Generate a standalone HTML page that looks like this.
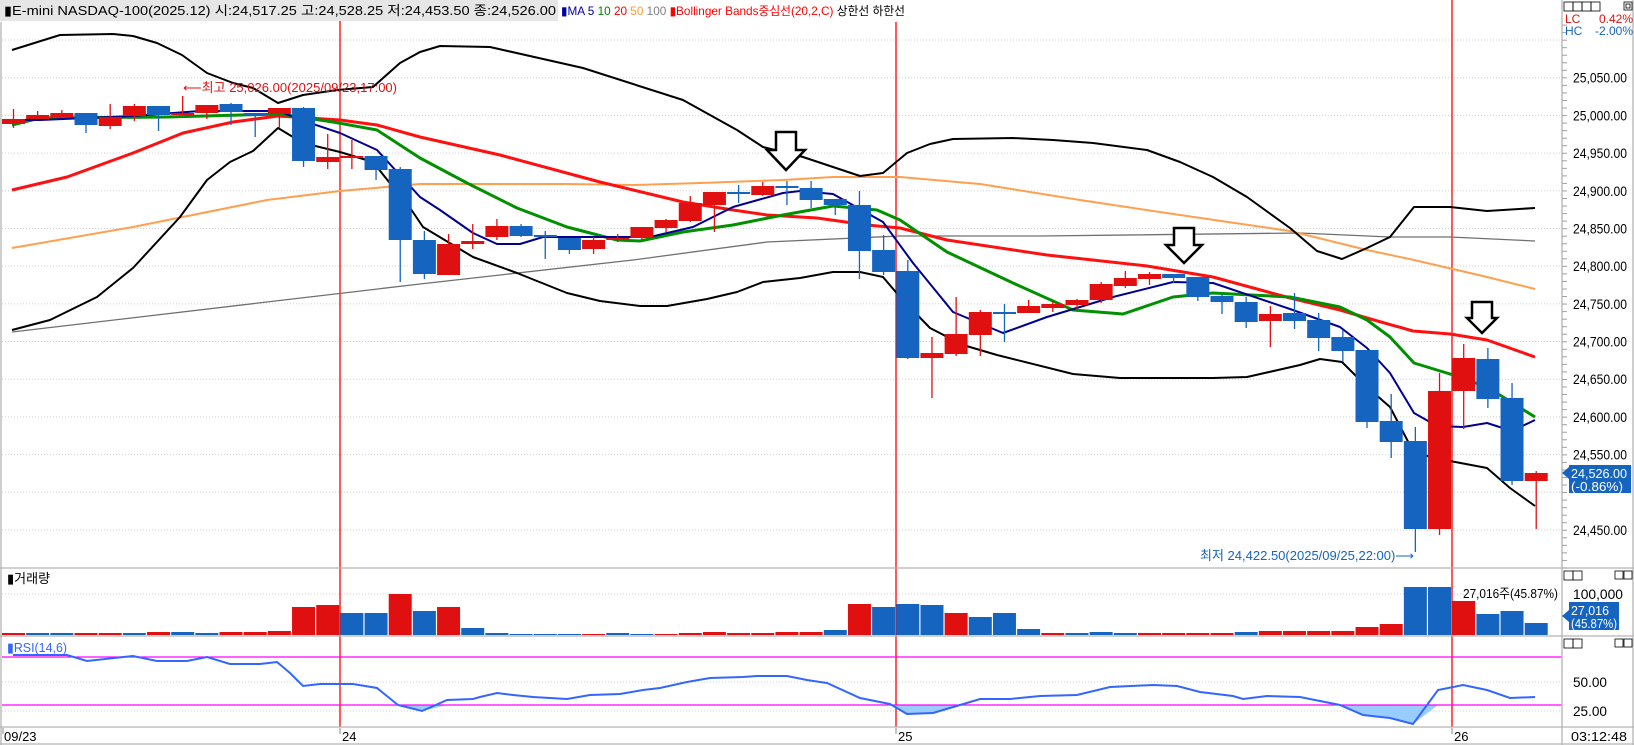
<!DOCTYPE html>
<html><head><meta charset="utf-8"><style>
html,body{margin:0;padding:0;background:#fff;}
svg{display:block;font-family:"Liberation Sans","Noto Sans CJK KR",sans-serif;}
</style></head><body>
<svg id="s" width="1634" height="745" viewBox="0 0 1634 745" xmlns="http://www.w3.org/2000/svg">
<defs><clipPath id="cp"><rect x="0" y="22" width="1562" height="546"/></clipPath></defs>
<rect x="0" y="0" width="1634" height="745" fill="#fff"/>
<g id="grid" stroke="#d0d0d0" stroke-dasharray="1,2" stroke-width="1"></g>
<g id="day" stroke="#ff0000" stroke-width="1.3">
<line x1="340" y1="0" x2="340" y2="727"/><line x1="896" y1="22" x2="896" y2="727"/><line x1="1452" y1="0" x2="1452" y2="727"/></g>
<g id="lines" clip-path="url(#cp)" fill="none" stroke-linejoin="round"></g>
<g id="cand"></g>
<g id="vol"></g>
<g id="rsi"></g>
<g fill="#fff" stroke="#000" stroke-width="2.5">
<path d="M776,132 h20 v18 h9 l-19,20 l-19,-20 h9 z"/>
<path d="M1174,228 h20 v17 h8 l-18,18 l-18,-18 h8 z"/>
<path d="M1472,302 h20 v16 h5 l-15,15 l-15,-15 h5 z"/>
</g>
<g stroke="#b4b4b4" stroke-width="1.3" fill="none">
<line x1="0" y1="568" x2="1634" y2="568"/><line x1="0" y1="636" x2="1634" y2="636"/>
<line x1="0" y1="727" x2="1634" y2="727"/><line x1="0" y1="744" x2="1634" y2="744"/>
<line x1="1562" y1="0" x2="1562" y2="745"/><line x1="1" y1="22" x2="1" y2="745"/>
<line x1="1633" y1="0" x2="1633" y2="745"/>
</g>
<g id="ticks" stroke="#a0a0a0" stroke-width="1"></g>
<rect x="0" y="0" width="558" height="21" fill="#e6e6e6"/>
<text x="4" y="15" font-size="13" fill="#000" textLength="552" lengthAdjust="spacingAndGlyphs">▮E-mini NASDAQ-100(2025.12) 시:24,517.25 고:24,528.25 저:24,453.50 종:24,526.00</text>
<text x="561" y="15" font-size="12" textLength="344" lengthAdjust="spacingAndGlyphs"><tspan fill="#0000a0">▮MA 5 </tspan><tspan fill="#008000">10 </tspan><tspan fill="#ff0000">20 </tspan><tspan fill="#ff9933">50 </tspan><tspan fill="#808080">100 </tspan><tspan fill="#ff0000">▮Bollinger Bands중심선(20,2,C) </tspan><tspan fill="#000">상한선 하한선</tspan></text>
<text x="183" y="92" font-size="13" fill="#e01010" textLength="214" lengthAdjust="spacingAndGlyphs">⟵최고 25,026.00(2025/09/23,17:00)</text>
<text x="1200" y="560" font-size="13" fill="#1464c0" textLength="214" lengthAdjust="spacingAndGlyphs">최저 24,422.50(2025/09/25,22:00)⟶</text>
<g id="plab" font-size="14" fill="#000"></g>
<g font-size="9" font-weight="bold" fill="#000" stroke="#000" stroke-width="0.8">
<rect x="1564" y="2" width="9" height="9" fill="none"/><rect x="1573" y="2" width="9" height="9" fill="none"/><rect x="1582" y="2" width="9" height="9" fill="none"/><rect x="1591" y="2" width="9" height="9" fill="none"/><rect x="1624" y="2" width="8" height="8" fill="none"/><rect x="1626" y="4" width="4" height="4" fill="none"/>
<rect x="1564" y="571" width="9" height="9" fill="none"/><rect x="1573" y="571" width="9" height="9" fill="none"/><rect x="1615" y="571" width="8" height="8" fill="none"/><rect x="1624" y="571" width="8" height="8" fill="none"/>
<rect x="1564" y="639" width="9" height="9" fill="none"/><rect x="1573" y="639" width="9" height="9" fill="none"/><rect x="1615" y="639" width="8" height="8" fill="none"/><rect x="1624" y="639" width="8" height="8" fill="none"/>
</g>
<text x="1565" y="23" font-size="12" fill="#e01010">LC</text><text x="1633" y="23" font-size="12" fill="#e01010" text-anchor="end">0.42%</text>
<text x="1565" y="35" font-size="12" fill="#1464c0">HC</text><text x="1633" y="35" font-size="12" fill="#1464c0" text-anchor="end">-2.00%</text>
<path d="M1562,473 l7,-6 v12 z" fill="#1464c0"/>
<rect x="1569" y="465" width="62" height="28" fill="#1464c0"/>
<text x="1571" y="478" font-size="13" fill="#fff" textLength="56" lengthAdjust="spacingAndGlyphs">24,526.00</text>
<text x="1571" y="491" font-size="13" fill="#fff" textLength="52" lengthAdjust="spacingAndGlyphs">(-0.86%)</text>
<text x="1573" y="599" font-size="14" textLength="50" lengthAdjust="spacingAndGlyphs">100,000</text>
<text x="1463" y="598" font-size="13" textLength="95" lengthAdjust="spacingAndGlyphs">27,016주(45.87%)</text>
<path d="M1562,616 l7,-6 v12 z" fill="#1464c0"/>
<rect x="1569" y="602" width="50" height="28" fill="#1464c0"/>
<text x="1571" y="615" font-size="13" fill="#fff" textLength="38" lengthAdjust="spacingAndGlyphs">27,016</text>
<text x="1571" y="628" font-size="13" fill="#fff" textLength="46" lengthAdjust="spacingAndGlyphs">(45.87%)</text>
<text x="7" y="583" font-size="13" fill="#000">▮거래량</text>
<text x="7" y="652" font-size="13" fill="#3366ff" textLength="60" lengthAdjust="spacingAndGlyphs">▮RSI(14,6)</text>
<text x="1573" y="687" font-size="14" textLength="34" lengthAdjust="spacingAndGlyphs">50.00</text>
<text x="1573" y="716" font-size="14" textLength="34" lengthAdjust="spacingAndGlyphs">25.00</text>
<g font-size="13" fill="#000">
<text x="4" y="741">09/23</text><text x="342" y="741">24</text><text x="898" y="741">25</text><text x="1454" y="741">26</text>
<text x="1571" y="741" textLength="56" lengthAdjust="spacingAndGlyphs">03:12:48</text></g>
<g stroke="#888"><line x1="3" y1="728" x2="3" y2="734"/><line x1="340" y1="728" x2="340" y2="734"/><line x1="896" y1="728" x2="896" y2="734"/><line x1="1452" y1="728" x2="1452" y2="734"/></g>
</svg>
<script>
var NS="http://www.w3.org/2000/svg";
function el(p,t,a){var e=document.createElementNS(NS,t);for(var k in a)e.setAttribute(k,a[k]);document.getElementById(p).appendChild(e);return e;}
var R="#e01010",B="#1464c0";
function yp(p){return 40+(25100-p)*0.7538;}
for(var p=25100;p>=24450;p-=50){var y=yp(p);el("grid","line",{x1:2,y1:y,x2:1562,y2:y});
 if(p!=25100&&p!=24500){var t=el("plab","text",{x:1573,y:y+5,textLength:54,lengthAdjust:"spacingAndGlyphs"});t.textContent=(p/1000|0)+","+String(p%1000).padStart(3,"0")+".00";}}
for(var y=40-7.5*4;y<568;y+=7.54){if(y>22)el("ticks","line",{x1:1562,y1:y,x2:1567,y2:y});}
[594,682,711].forEach(function(y){el("grid","line",{x1:2,y1:y,x2:1562,y2:y});});
var C=[["r",119,124,109,128],["r",115,119,111,119],["r",113,117,110,117],["b",113,125,113,133],["r",117,126,104,129],["r",106,116,104,121],["b",106,115,106,131],["r",113,114,96,114],["r",105,113,105,119],["b",104,112,103,125],["b",113,115,113,137],["r",108,114,108,128],["b",108,161,107,167],["r",157,162,134,169],["r",156,157,140,169],["b",156,170,156,180],["b",169,240,167,282],["b",240,274,231,279],["r",244,275,234,275],["r",241,244,224,249],["r",226,237,219,240],["b",226,236,224,237],["b",235,237,231,259],["b",238,250,238,254],["r",240,249,237,254],["r",238,240,234,242],["r",227,238,227,240],["r",220,228,219,232],["r",203,221,196,222],["r",192,205,192,232],["b",192,194,185,203],["r",186,195,182,196],["b",186,188,181,205],["b",188,200,181,208],["b",199,205,199,215],["b",205,251,191,279],["b",250,272,235,275],["b",271,358,260,359],["r",353,358,337,398],["r",334,354,297,356],["r",312,335,310,356],["b",312,313,304,342],["r",306,313,300,313],["r",304,308,301,312],["r",300,305,299,309],["r",284,300,282,303],["r",278,286,271,288],["r",274,279,272,285],["b",274,278,274,283],["b",277,297,277,301],["b",296,302,294,314],["b",302,322,297,328],["r",314,321,306,347],["b",313,321,293,329],["b",320,338,313,351],["b",337,351,330,362],["b",350,422,350,428],["b",421,442,394,458],["b",441,529,427,552],["r",391,529,373,535],["r",358,391,344,429],["b",359,399,348,408],["b",398,481,383,485],["r",473,481,471,529]];
C.forEach(function(c,i){var x=2+i*24.17,col=c[0]=="r"?R:B,cx=x+11.5;
 el("cand","line",{x1:cx,y1:c[3],x2:cx,y2:c[4],stroke:col,"stroke-width":1.3});
 var h=Math.max(2,c[2]-c[1]);el("cand","rect",{x:x,y:c[1],width:23,height:h,fill:col});});
var V=[2,2,2,2,2,2,3,3,2,3,3,4,28,30,22,22,41,24,28,7,2,1,1,1,1,2,1,1,2,3,2,2,3,3,5,31,28,31,30,22,18,22,6,2,2,3,2,2,2,2,2,3,4,4,4,4,8,11,48,48,34,21,24,12];
var VC="rbbrrbrbbrrrrrbbrbrbbbbbrbbrrrrrrrbrbbbrbbbrbbbrrrrbrrrrrrbbrb";
V.forEach(function(h,i){el("vol","rect",{x:2+i*24.17,y:635-h,width:23,height:h,fill:VC[i]=="r"?R:B});});
function pl(pts,col,w){el("lines","polyline",{points:pts.map(function(p){return p.join(",")}).join(" "),stroke:col,"stroke-width":w});}
pl([[12,332],[420,284],[633,260],[767,242],[900,236],[1040,236],[1300,233],[1390,237],[1450,237],[1535,241]],"#707070",1.3);
pl([[12,248],[133,227],[267,200],[340,191],[420,184],[567,184],[633,185],[700,183],[783,180],[833,177],[900,177],[980,184],[1080,200],[1180,215],[1290,231],[1367,250],[1414,260],[1487,277],[1535,289]],"#ffa050",2);
pl([[12,50],[60,35],[113,34],[133,36],[157,43],[182,55],[207,73],[233,83],[253,88],[278,103],[303,95],[337,90],[373,87],[400,63],[420,52],[440,46],[490,47],[583,68],[683,100],[737,130],[763,147],[803,157],[833,167],[860,176],[883,173],[907,153],[930,144],[953,139],[1013,138],[1053,140],[1093,143],[1147,150],[1180,162],[1213,177],[1247,197],[1290,228],[1317,251],[1342,259],[1367,248],[1390,237],[1414,207],[1450,207],[1487,211],[1535,208]],"#000",2);
pl([[12,330],[50,320],[97,297],[133,268],[180,217],[207,180],[230,162],[253,151],[278,128],[303,143],[340,152],[373,162],[393,187],[400,193],[423,227],[473,257],[517,273],[567,293],[600,301],[640,306],[667,306],[707,299],[737,292],[763,282],[800,278],[833,272],[860,272],[883,277],[900,297],[930,328],[963,345],[997,355],[1073,374],[1120,378],[1213,378],[1247,377],[1300,365],[1320,359],[1342,362],[1367,387],[1390,407],[1414,453],[1450,461],[1487,468],[1510,488],[1535,506]],"#000",2);
pl([[12,190],[67,177],[133,153],[183,133],[233,122],[278,116],[340,120],[377,125],[420,137],[500,155],[600,182],[683,202],[733,210],[767,215],[817,218],[867,225],[900,228],[947,240],[1047,255],[1147,266],[1213,277],[1290,298],[1340,310],[1367,318],[1413,331],[1450,334],[1487,340],[1535,357]],"#ff1010",3);
pl([[12,125],[40,118],[167,117],[280,114],[333,122],[377,130],[420,158],[467,183],[517,208],[567,227],[617,240],[640,241],[683,232],[733,225],[783,215],[833,206],[877,210],[900,220],[947,252],[1013,283],[1073,310],[1123,314],[1173,297],[1213,293],[1290,297],[1340,307],[1367,320],[1390,337],[1414,363],[1450,374],[1487,387],[1535,417]],"#009000",3);
pl([[12,120],[40,120],[133,116],[200,111],[278,111],[307,122],[340,133],[377,150],[420,197],[440,210],[473,233],[497,244],[520,244],[543,237],[650,237],[693,227],[733,207],[783,193],[800,191],[833,194],[883,222],[913,263],[953,312],[1003,333],[1047,317],[1113,297],[1173,282],[1213,283],[1290,309],[1340,327],[1367,348],[1390,373],[1414,413],[1437,426],[1463,427],[1487,423],[1512,431],[1535,420]],"#000090",2);
var RS=[[13,655],[67,655],[87,661],[133,656],[157,661],[187,661],[207,657],[230,664],[260,664],[277,662],[290,673],[303,686],[320,684],[353,684],[377,688],[398,705],[422,711],[447,700],[473,699],[480,697],[497,693],[513,695],[533,697],[550,698],[567,699],[590,695],[620,694],[643,690],[660,688],[687,682],[710,678],[743,677],[757,676],[787,676],[807,680],[820,682],[827,683],[860,698],[890,704],[907,714],[933,713],[960,705],[980,699],[1010,699],[1040,696],[1077,695],[1110,687],[1153,685],[1177,686],[1200,692],[1233,696],[1243,699],[1267,696],[1300,697],[1340,705],[1363,715],[1390,718],[1413,724],[1438,690],[1463,685],[1487,690],[1510,698],[1535,697]];
var poly="0,705 "+RS.map(function(p){return p[0]+","+Math.max(705,p[1])}).join(" ")+" 1562,705";
el("rsi","polygon",{points:poly,fill:"#99ccff"});
el("rsi","line",{x1:2,y1:657,x2:1562,y2:657,stroke:"#ff00ff","stroke-width":1.3});
el("rsi","line",{x1:2,y1:705,x2:1562,y2:705,stroke:"#ff00ff","stroke-width":1.3});
el("rsi","polyline",{points:RS.map(function(p){return p.join(",")}).join(" "),fill:"none",stroke:"#3366ff","stroke-width":2});
</script>
</body></html>
